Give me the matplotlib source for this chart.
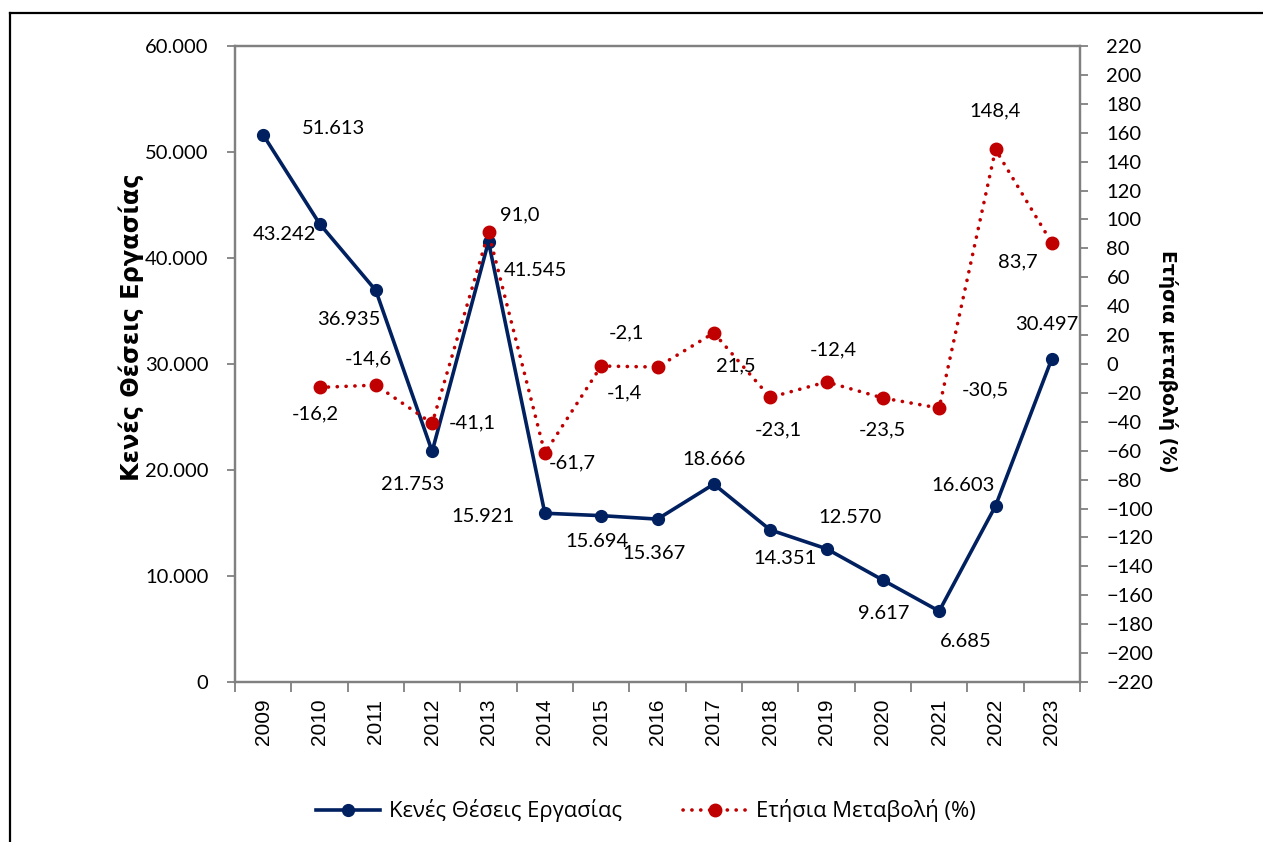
import numpy as np
import matplotlib
matplotlib.use("Agg")
import matplotlib.pyplot as plt
from matplotlib.lines import Line2D
from matplotlib.ticker import FuncFormatter, FixedLocator

# --- data ---
years = ["2009", "2010", "2011", "2012", "2013", "2014", "2015", "2016",
         "2017", "2018", "2019", "2020", "2021", "2022", "2023"]
vacancies = [51613, 43242, 36935, 21753, 41545, 15921, 15694, 15367,
             18666, 14351, 12570, 9617, 6685, 16603, 30497]
# annual change (%) starts in 2010
change_years = years[1:]
change_pct = [-16.2, -14.6, -41.1, 91.0, -61.7, -1.4, -2.1, 21.5,
              -23.1, -12.4, -23.5, -30.5, 148.4, 83.7]

label_left = "Κενές Θέσεις Εργασίας"
label_right = "Ετήσια μεταβολή (%)"
legend_left = "Κενές Θέσεις Εργασίας"
legend_right = "Ετήσια Μεταβολή (%)"

# label offsets (pixels) from each point, as placed in the original
vac_offsets = [(70, 6), (-35, -11), (-27, -29), (-20, -33), (47, -29), (-62, -3),
               (-4, -26), (-4, -34), (0, 25), (15, -29), (23, 31), (1, -33),
               (27, -30), (-32, 21), (-5, 34)]
pct_offsets = [(-4, -26), (-8, 26), (40, 1), (31, 18), (27, -10), (23, -27),
               (-31, 34), (22, -33), (8, -32), (7, 32), (0, -32), (46, 18),
               (0, 39), (-34, -19)]

BLUE = "#002060"
RED = "#C00000"
SPINE = "#808080"
NUM_FONT = ["Lato", "DejaVu Sans"]
GREEK_FONT = ["Open Sans", "DejaVu Sans"]
TITLE_FONT = ["DejaVu Sans"]

W, H = 1263, 842
fig = plt.figure(figsize=(W / 100, H / 100), dpi=100)
ax = fig.add_axes([235 / W, 1 - 682 / H, (1080 - 235) / W, (682 - 46) / H])
ax2 = ax.twinx()

x = np.arange(len(years))
x2 = np.arange(1, len(years))

ax.plot(x, vacancies, color=BLUE, lw=2.6, marker="o", ms=8.5, zorder=3,
        label=legend_left)
ax2.plot(x2, change_pct, color=RED, lw=2.6, dashes=[0.05, 2.4],
         dash_capstyle="round", marker="o", ms=9, zorder=3, label=legend_right)

def dot_thousands(v, pos=None):
    return f"{int(round(v)):,}".replace(",", ".")

for xi, v, (dx, dy) in zip(x, vacancies, vac_offsets):
    ax.annotate(dot_thousands(v), (xi, v), xytext=(dx, dy),
                textcoords="offset pixels", ha="center", va="center",
                fontsize=14.5, family=NUM_FONT, color="black")
for xi, v, (dx, dy) in zip(x2, change_pct, pct_offsets):
    ax2.annotate(f"{v:.1f}".replace(".", ","), (xi, v), xytext=(dx, dy),
                 textcoords="offset pixels", ha="center", va="center",
                 fontsize=14.5, family=NUM_FONT, color="black")

# axes limits and ticks
ax.set_xlim(-0.5, len(years) - 0.5)
ax.set_ylim(0, 60000)
ax.set_yticks(np.arange(0, 60001, 10000))
ax.yaxis.set_major_formatter(FuncFormatter(dot_thousands))
ax2.set_ylim(-220, 220)
ax2.set_yticks(np.arange(-220, 221, 20))

ax.set_xticks(x)
ax.set_xticklabels(years, rotation=90, fontsize=15, family="Liberation Sans")
ax.xaxis.set_minor_locator(FixedLocator(np.arange(-0.5, len(years), 1.0)))
ax.tick_params(axis="x", which="major", length=0, pad=12)
ax.tick_params(axis="x", which="minor", length=7, width=1.3, color=SPINE)
ax.tick_params(axis="y", length=6, width=1.3, color=SPINE, pad=13,
               labelsize=14.5)
ax2.tick_params(axis="y", length=6, width=1.3, color=SPINE, pad=13,
                labelsize=14.5)
for lab in ax.get_yticklabels() + ax2.get_yticklabels():
    lab.set_family(NUM_FONT)

for a in (ax, ax2):
    for s in a.spines.values():
        s.set_color(SPINE)
        s.set_linewidth(1.6)

# axis titles
fig.text(131 / W, 1 - 327 / H, label_left, rotation=90, ha="center",
         va="center", fontsize=17.3, fontweight="bold", family=TITLE_FONT)
fig.text(1168 / W, 1 - 361 / H, label_right, rotation=270, ha="center",
         va="center", fontsize=13.5, fontweight="bold", family=TITLE_FONT)

# legend
handles = [Line2D([], [], color=BLUE, lw=2.6, marker="o", ms=8.5),
           Line2D([], [], color=RED, lw=2.6, dashes=[0.05, 2.4],
                  dash_capstyle="round", marker="o", ms=9)]
fig.legend(handles, [legend_left, legend_right], loc="center",
           bbox_to_anchor=(646 / W, 1 - 811 / H), ncol=2, frameon=False,
           handlelength=2.9, handletextpad=0.4, columnspacing=2.8,
           prop={"family": GREEK_FONT, "size": 15.8})

# outer frame (top and left edges visible in the original)
fig.add_artist(Line2D([10 / W, 1], [1 - 13 / H, 1 - 13 / H], color="black",
                      lw=1.6, transform=fig.transFigure))
fig.add_artist(Line2D([10 / W, 10 / W], [0, 1 - 13 / H], color="black",
                      lw=1.6, transform=fig.transFigure))

fig.savefig("out.png", dpi=100)
